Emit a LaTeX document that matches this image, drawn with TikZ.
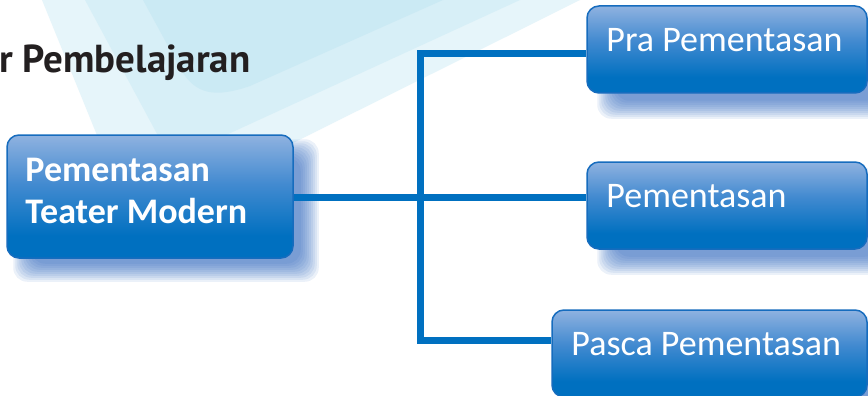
\documentclass[tikz,border=0pt]{standalone}
\usepackage{fontspec}
\setmainfont{Carlito}
\newfontfamily\titlefont{PT Sans}
\definecolor{bandA}{RGB}{230,245,250}
\definecolor{bandB}{RGB}{215,239,247}
\definecolor{bandC}{RGB}{203,234,244}
\definecolor{boxtop}{RGB}{143,178,224}
\definecolor{boxmid}{RGB}{66,138,208}
\definecolor{boxbot}{RGB}{0,112,192}
\definecolor{boxline}{RGB}{22,108,190}
\definecolor{conn}{RGB}{0,112,192}
\definecolor{shadowc}{RGB}{40,100,190}
\definecolor{titlec}{RGB}{35,31,32}
\pgfdeclareverticalshading{boxgrad}{100bp}{color(0bp)=(boxbot); color(25bp)=(boxbot); color(34bp)=(boxbot); color(55bp)=(boxmid); color(75bp)=(boxtop); color(100bp)=(boxtop)}
\pgfdeclarelayer{bg}
\pgfdeclarelayer{shad}
\pgfdeclarelayer{lines}
\pgfsetlayers{bg,shad,lines,main}
\tikzset{
  sbox/.style={rectangle, rounded corners=12pt, draw=boxline, line width=1.5pt, shading=boxgrad, inner sep=0pt},
  btext/.style={text=white, inner sep=0pt, font=\fontsize{36}{42}\selectfont},
  mtext/.style={text=white, inner sep=0pt, align=left, font=\bfseries\fontsize{36}{42}\selectfont},
  connline/.style={draw=conn, line width=7pt, line join=miter},
}
\newcommand\softshadow[3]{%
  \foreach \k in {0,...,9}{%
    \pgfmathsetmacro\e{9-2*\k}%
    \fill[shadowc, opacity=0.09, rounded corners=14pt]
      ([xshift={(#2-\e)*1pt}, yshift={(-#3-\e)*1pt}]#1.south west) rectangle
      ([xshift={(#2+\e)*1pt}, yshift={(-#3+\e)*1pt}]#1.north east);
  }}
\begin{document}
\begin{tikzpicture}[x=1pt,y=-1pt]
\useasboundingbox (0,0) rectangle (868,396);
% background bands
\begin{pgfonlayer}{bg}
  \fill[white] (0,0) rectangle (868,396);
  \fill[bandA] (42,0) -- (103,150) -- (285,147) -- (580,0) -- cycle;
  \fill[bandB] (85,0) -- (163,145) -- (200,147) -- (520,0) -- cycle;
  \fill[bandC] (143,0) -- (180,68) .. controls (195,95) and (215,98) .. (250,86) -- (443,0) -- cycle;
\end{pgfonlayer}
% title
\node[anchor=base west, inner sep=0pt, text=titlec, font=\titlefont\bfseries\fontsize{39}{42}\selectfont] (title) at (-1,73) {r Pembelajaran};
% boxes
\node[sbox, minimum width=286pt, minimum height=123pt] (main) at (150,196.5) {};
\node[sbox, minimum width=280pt, minimum height=87pt] (pra) at (727,49.5) {};
\node[sbox, minimum width=280pt, minimum height=87pt] (pem) at (727,205.5) {};
\node[sbox, minimum width=315pt, minimum height=87pt] (pasca) at (709.5,353.5) {};
% texts
\node[mtext, anchor=north west] (mainT) at ([xshift=19pt,yshift=-24pt]main.north west) {Pementasan\\Teater Modern};
\node[btext, anchor=base west] (praT) at ([xshift=20pt,yshift=-46pt]pra.north west) {Pra Pementasan};
\node[btext, anchor=base west] (pemT) at ([xshift=20pt,yshift=-46pt]pem.north west) {Pementasan};
\node[btext, anchor=base west] (pascaT) at ([xshift=20pt,yshift=-46pt]pasca.north west) {Pasca Pementasan};
% shadows
\begin{pgfonlayer}{shad}
  \softshadow{main}{16}{14}
  \softshadow{pra}{20}{16}
  \softshadow{pem}{20}{16}
  \softshadow{pasca}{20}{16}
\end{pgfonlayer}
% connectors
\coordinate (jt) at (420.5,54);
\coordinate (jm) at (420.5,197);
\coordinate (jb) at (420.5,340.5);
\begin{pgfonlayer}{lines}
  \draw[connline] (pra.west |- jt) -- (jt) -- (jb) -- (pasca.west |- jb);
  \draw[connline] (main.east |- jm) -- (pem.west |- jm);
\end{pgfonlayer}
\end{tikzpicture}
\end{document}
